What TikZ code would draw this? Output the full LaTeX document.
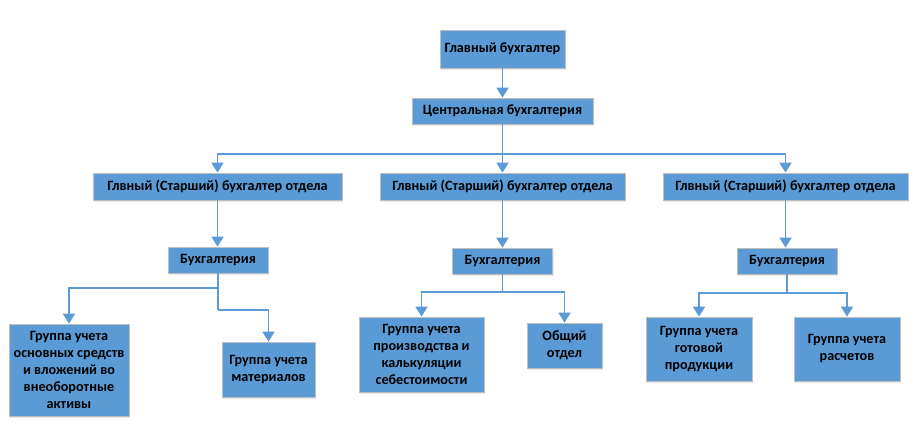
\documentclass[tikz,border=0pt]{standalone}
\usepackage{fontspec}
\setmainfont{Carlito}
\usetikzlibrary{arrows.meta,shadows}
\definecolor{boxfill}{HTML}{5B9BD5}
\definecolor{boxline}{HTML}{BFBFBF}
\definecolor{conn}{HTML}{5B9BD5}
\begin{document}
\begin{tikzpicture}[x=1pt,y=-1pt,
  box/.style={draw=boxline,line width=0.8pt,fill=boxfill,inner sep=2pt,
    font=\fontsize{14.2}{17}\selectfont\bfseries,align=center,
    drop shadow={shadow xshift=1pt,shadow yshift=-2pt,opacity=0.18,fill=gray}},
  ln/.style={draw=conn,line width=1.8pt},
  arr/.style={ln,-{Triangle[width=12pt,length=10pt]}}]
\useasboundingbox (0,0) rectangle (923,425);
\node[box,minimum width=125pt,minimum height=38pt] (A) at (502.5,49) {Главный бухгалтер};
\node[box,minimum width=181pt,minimum height=26pt] (B) at (502.5,111) {Центральная бухгалтерия};
\node[box,minimum width=249pt,minimum height=27pt] (C1) at (217.5,186.5) {Глвный (Старший) бухгалтер отдела};
\node[box,minimum width=245pt,minimum height=27pt] (C2) at (502.5,186.5) {Глвный (Старший) бухгалтер отдела};
\node[box,minimum width=245pt,minimum height=27pt] (C3) at (785.5,186.5) {Глвный (Старший) бухгалтер отдела};
\node[box,minimum width=100pt,minimum height=26pt] (D1) at (218,260) {Бухгалтерия};
\node[box,minimum width=100pt,minimum height=26pt] (D2) at (502.5,261) {Бухгалтерия};
\node[box,minimum width=100pt,minimum height=26pt] (D3) at (787,261) {Бухгалтерия};
\node[box,minimum width=120pt,minimum height=92pt] (E1) at (69,370) {Группа учета\\основных средств\\и вложений во\\внеоборотные\\активы};
\node[box,minimum width=93pt,minimum height=55pt] (E2) at (268.5,369.5) {Группа учета\\материалов};
\node[box,minimum width=125pt,minimum height=75pt] (E3) at (421.5,354.5) {Группа учета\\производства и\\калькуляции\\себестоимости};
\node[box,minimum width=75pt,minimum height=45pt] (E4) at (564.5,345.5) {Общий\\отдел};
\node[box,minimum width=106pt,minimum height=64pt] (E5) at (699,349) {Группа учета\\готовой\\продукции};
\node[box,minimum width=106pt,minimum height=64pt] (E6) at (847,349) {Группа учета\\расчетов};
\coordinate (j1) at (502.5,154);
\coordinate (j2) at (218,288);
\coordinate (j3) at (218,310);
\coordinate (j4) at (502.5,292);
\coordinate (j5) at (787,293);
\draw[arr] (A.south) -- (B.north);
\draw[arr] (B.south) -- (C2.north);
\draw[arr] (j1) -| (C1.north);
\draw[arr] (j1) -| (C3.north);
\draw[arr] (C1.south) -- (C1.south |- D1.north);
\draw[arr] (C2.south) -- (D2.north);
\draw[arr] (C3.south) -- (C3.south |- D3.north);
\draw[ln] (D1.south) -- (j3);
\draw[arr] (j2) -| (E1.north);
\draw[arr] (j3) -| (E2.north);
\draw[ln] (D2.south) -- (j4);
\draw[arr] (j4) -| (E3.north);
\draw[arr] (j4) -| (E4.north);
\draw[ln] (D3.south) -- (j5);
\draw[arr] (j5) -| (E5.north);
\draw[arr] (j5) -| (E6.north);
\end{tikzpicture}
\end{document}
